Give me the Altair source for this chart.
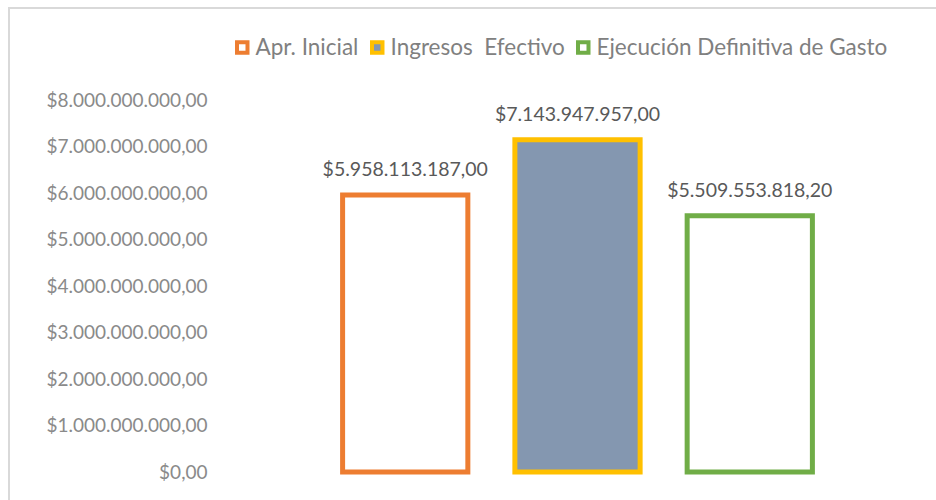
import altair as alt
import pandas as pd

categorias = ["Apr. Inicial", "Ingresos\u00a0 Efectivo", "Ejecución Definitiva de Gasto"]
valores = [5958113187.00, 7143947957.00, 5509553818.20]
colores_borde = ["#ED7D31", "#FFC000", "#70AD47"]
colores_relleno = ["#FFFFFF", "#8497B0", "#FFFFFF"]
ticks_y = [0, 1e9, 2e9, 3e9, 4e9, 5e9, 6e9, 7e9, 8e9]

df = pd.DataFrame({"cat": categorias, "valor": valores})

leyenda = alt.Legend(
    title=None, orient="none", legendX=-88, legendY=-64, direction="horizontal",
    symbolType="square", symbolSize=110, symbolStrokeWidth=4,
    labelFont="Lato", labelFontSize=22.5, labelColor="#808080", labelLimit=0,
    columnPadding=5, labelOffset=2,
)

xenc = alt.X("cat:N", sort=categorias, axis=None,
             scale=alt.Scale(paddingInner=0.273, paddingOuter=0.137))
yenc = alt.Y("valor:Q", scale=alt.Scale(domain=[0, 8e9], nice=False),
             axis=alt.Axis(values=ticks_y, format="$,.2f", title=None, domain=False,
                           ticks=False, grid=False, labelPadding=112, labelFont="Lato",
                           labelFontSize=19, labelColor="#8a8a8a"))

base = alt.Chart(df)
bars = base.mark_bar(strokeWidth=5).encode(
    x=xenc,
    y=yenc,
    fill=alt.Fill("cat:N", sort=categorias,
                  scale=alt.Scale(domain=categorias, range=colores_relleno), legend=leyenda),
    stroke=alt.Stroke("cat:N", sort=categorias,
                      scale=alt.Scale(domain=categorias, range=colores_borde), legend=leyenda),
)
labels = base.mark_text(dy=-25, baseline="middle", font="Lato", fontSize=19.5,
                        color="#595959").encode(
    x=xenc,
    y=alt.Y("valor:Q"),
    text=alt.Text("valor:Q", format="$,.2f"),
)
borde = alt.Chart(pd.DataFrame({"a": [0]})).mark_rect(
    filled=False, stroke="#d9d9d9", strokeWidth=2).encode(
    x=alt.value(-310), x2=alt.value(700), y=alt.value(-92), y2=alt.value(500))

chart = alt.layer(borde, bars, labels).properties(
    width=517, height=372,
    autosize=alt.AutoSizeParams(type="none"),
    padding={"left": 319, "top": 100, "right": 100, "bottom": 28},
    background="white",
).configure(
    locale={"number": {"decimal": ",", "thousands": ".", "grouping": [3],
                       "currency": ["$", ""]}}
).configure_view(stroke=None)

chart.save("out.html", embed_options={"renderer": "svg", "actions": False})
